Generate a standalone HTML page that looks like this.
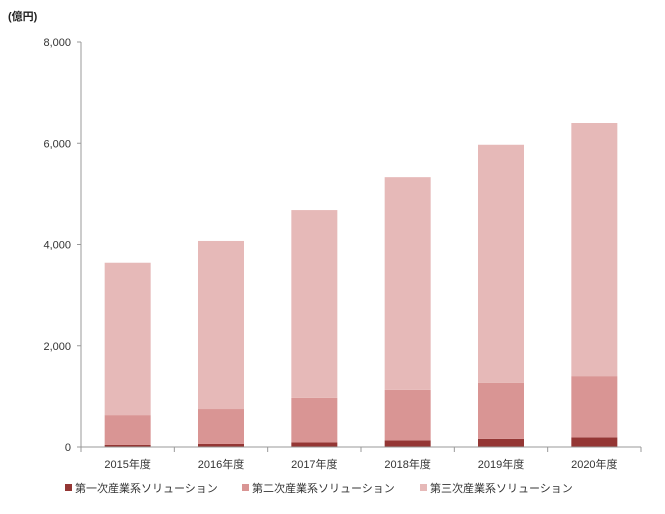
<!DOCTYPE html>
<html><head><meta charset="utf-8"><style>
body{margin:0;background:#fff;font-family:"Liberation Sans","Noto Sans CJK JP",sans-serif;}
</style></head><body>
<svg id="c" width="665" height="509" xmlns="http://www.w3.org/2000/svg" font-family="Liberation Sans, Noto Sans CJK JP, sans-serif"></svg>
<script>
const categories=["2015年度","2016年度","2017年度","2018年度","2019年度","2020年度"];
const primary=[40,60,90,130,160,190];
const secondary=[590,690,880,1000,1105,1210];
const tertiary=[3010,3320,3710,4200,4705,5000];
const yTicks=[0,2000,4000,6000,8000];
const yTickLabels=["0","2,000","4,000","6,000","8,000"];
const seriesNames=["第一次産業系ソリューション","第二次産業系ソリューション","第三次産業系ソリューション"];
const colors=["#943634","#d99594","#e6b9b8"];
const svg=document.getElementById('c');const NS="http://www.w3.org/2000/svg";
const x0=81,x1=641,y0=447,yTop=42,yMax=8000;
const y=v=>y0-(y0-yTop)*v/yMax;
const bw=(x1-x0)/categories.length;
function mk(t,a,txt){const e=document.createElementNS(NS,t);for(const k in a)e.setAttribute(k,a[k]);if(txt!=null)e.textContent=txt;svg.appendChild(e);return e;}
let t=mk('text',{x:8,y:20,'font-size':11,'font-weight':'bold',fill:'#222'},'(億円)');

let ax=mk('line',{x1:x0,y1:yTop,x2:x0,y2:y0,stroke:'#999'});

yTicks.forEach((v,i)=>{
 let l=mk('line',{x1:x0-4,x2:x0,y1:y(v),y2:y(v),stroke:'#999'});
 
 let tx=mk('text',{x:x0-10,y:y(v)+4,'text-anchor':'end','font-size':11,fill:'#333'},yTickLabels[i]);
 
});
const series=[primary,secondary,tertiary];
categories.forEach((c,i)=>{
 const cx=x0+bw*(i+0.5);let base=0;
 series.forEach((s,j)=>{
  const r=mk('rect',{x:cx-23,width:46,y:y(base+s[i]),height:y(base)-y(base+s[i]),fill:colors[j]});
  
  base+=s[i];
 });
 let tx=mk('text',{x:cx,y:468,'text-anchor':'middle','font-size':11,fill:'#333'},c);
 
});
let bx=mk('line',{x1:x0,y1:y0,x2:x1,y2:y0,stroke:'#999'});

for(let i=0;i<=categories.length;i++){
 let l=mk('line',{x1:x0+bw*i,x2:x0+bw*i,y1:y0,y2:y0+5,stroke:'#999'});
 
}
const lx=[65,242,420];
seriesNames.forEach((n,j)=>{
 let r=mk('rect',{x:lx[j],y:484,width:7,height:7,fill:colors[j]});
 
 let tx=mk('text',{x:lx[j]+10,y:492,'font-size':11,fill:'#333'},n);
 
});
</script>
</body></html>
